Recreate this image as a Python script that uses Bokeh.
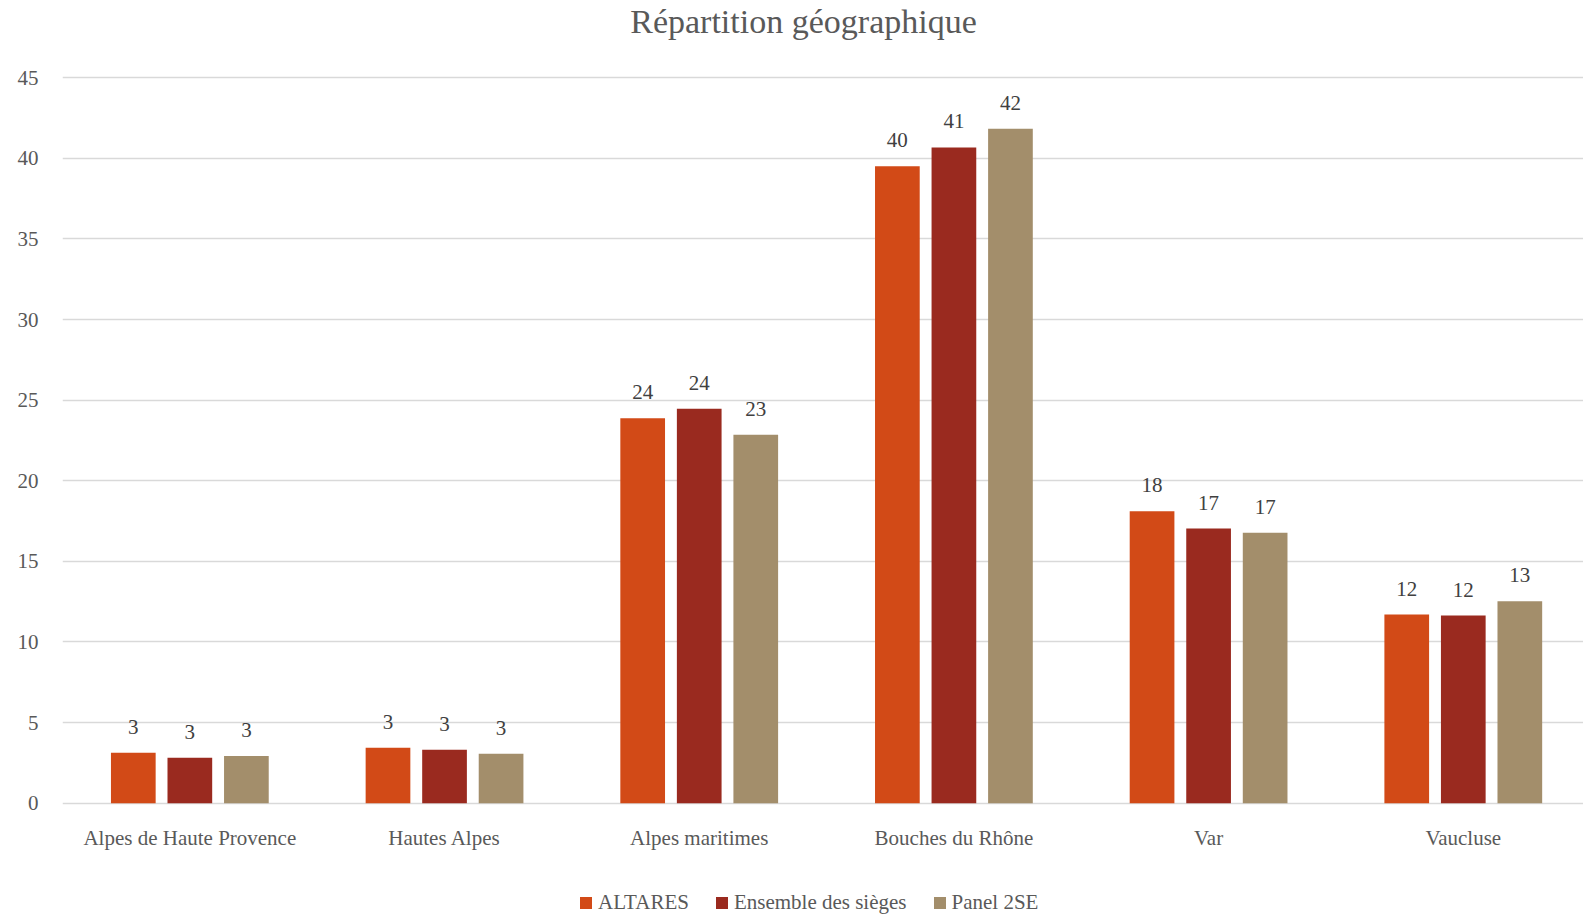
from bokeh.plotting import figure
from bokeh.models import (ColumnDataSource, Range1d, FixedTicker, LabelSet, Label,
                          Legend, LegendItem)
from bokeh.embed import file_html
from bokeh.resources import INLINE

categories = ["Alpes de Haute Provence", "Hautes Alpes", "Alpes maritimes",
              "Bouches du Rhône", "Var", "Vaucluse"]
series_names = ["ALTARES", "Ensemble des sièges", "Panel 2SE"]
altares = [3.13, 3.44, 23.88, 39.52, 18.11, 11.70]
ensemble = [2.82, 3.32, 24.47, 40.68, 17.04, 11.64]
panel = [2.92, 3.07, 22.85, 41.84, 16.77, 12.52]
y_ticks = [0, 5, 10, 15, 20, 25, 30, 35, 40, 45]
title_text = "Répartition géographique"

colors = ["#D24A17", "#9A2A1F", "#A38E6B"]
FONT = "Liberation Serif"
GRAY = "#595959"

series_values = [altares, ensemble, panel]
cat_pos = [i + 0.5 for i in range(len(categories))]

W, H = 1583, 918
p = figure(width=W, height=H, output_backend="svg", toolbar_location=None,
           x_range=Range1d(0, 5.972), y_range=Range1d(-7.153, 49.795),
           min_border_left=62, min_border_right=0, min_border_top=0, min_border_bottom=0)
p.outline_line_color = None
p.background_fill_color = "white"

offsets = [-0.222, 0.0, 0.222]
renderers = []
for name, vals, col, off in zip(series_names, series_values, colors, offsets):
    src = ColumnDataSource(dict(x=[c + off for c in cat_pos], top=vals,
                                label=[f"{v:.0f}" for v in vals]))
    r = p.vbar(x="x", top="top", width=0.1755, bottom=0, source=src,
               fill_color=col, line_color=None)
    renderers.append((name, r))
    lbl = LabelSet(x="x", y="top", text="label", source=src, y_offset=19,
                   text_align="center", text_baseline="alphabetic",
                   text_font=FONT, text_font_size="21px", text_color="#404040")
    p.add_layout(lbl)

p.xgrid.visible = False
p.ygrid.grid_line_color = "#D9D9D9"
p.ygrid.grid_line_width = 1.3
p.yaxis.ticker = FixedTicker(ticks=y_ticks)
p.xaxis.ticker = FixedTicker(ticks=cat_pos)
p.xaxis.major_label_overrides = {c: n for c, n in zip(cat_pos, categories)}
p.xaxis.fixed_location = 0

for ax in (p.xaxis[0], p.yaxis[0]):
    ax.axis_line_color = None
    ax.major_tick_line_color = None
    ax.minor_tick_line_color = None
    ax.major_tick_out = 0
    ax.major_tick_in = 0
    ax.minor_tick_out = 0
    ax.major_label_text_font = FONT
    ax.major_label_text_font_size = "21px"
    ax.major_label_text_color = GRAY
p.xaxis.major_label_standoff = 23
p.yaxis.major_label_standoff = 24

title = Label(x=741, y=H - 21, x_units="screen", y_units="screen", text=title_text,
              text_align="center", text_baseline="alphabetic",
              text_font=FONT, text_font_size="34px", text_color=GRAY)
p.add_layout(title)

legend = Legend(items=[LegendItem(label=n, renderers=[r]) for n, r in renderers],
                orientation="horizontal", location=(516, 3),
                glyph_width=15, glyph_height=15, label_standoff=5, spacing=25,
                padding=0, margin=0, border_line_color=None, background_fill_alpha=0,
                label_text_font=FONT, label_text_font_size="21px", label_text_color=GRAY,
                label_height=20)
p.add_layout(legend, "center")

open("out.html", "w").write(file_html(p, INLINE))
